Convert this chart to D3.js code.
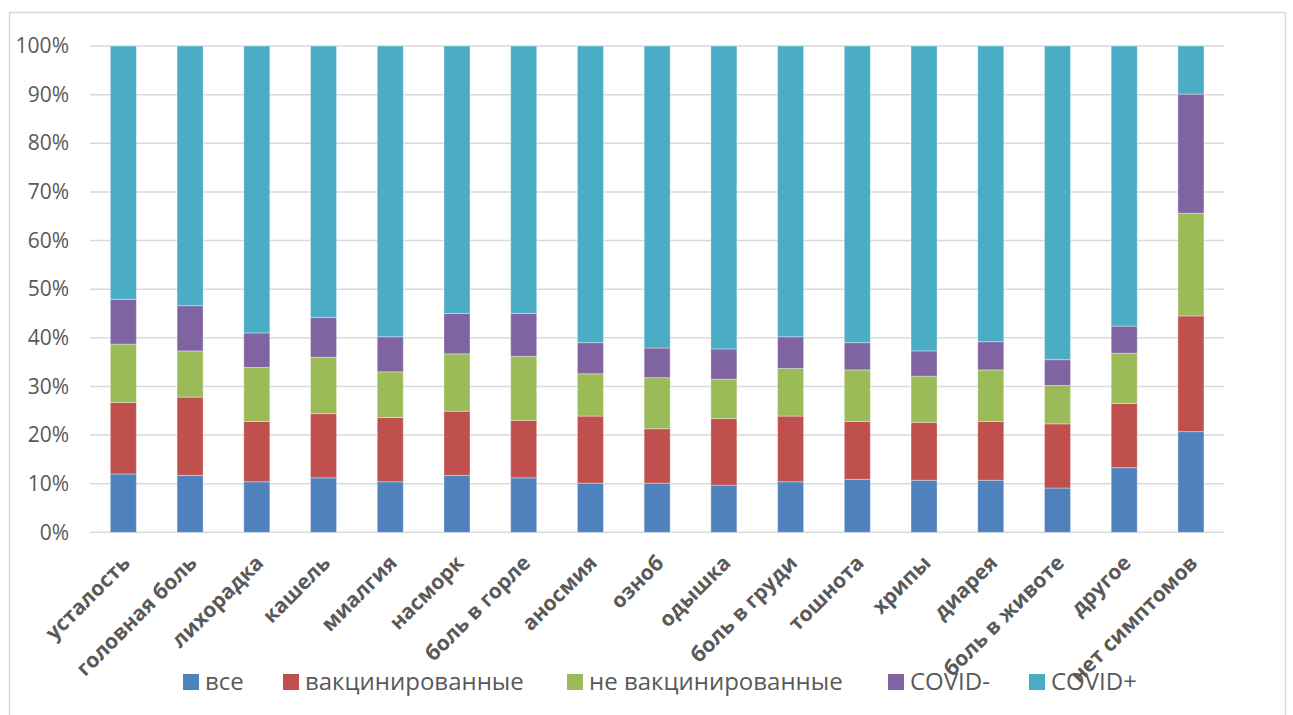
<!DOCTYPE html>
<html lang="ru">
<head>
<meta charset="utf-8">
<script src="https://cdn.jsdelivr.net/npm/d3@7"></script>
<style>
  html, body { margin: 0; padding: 0; background: #fff; }
  svg { display: block; }
</style>
</head>
<body>
<svg id="chart" width="1293" height="715"></svg>
<script>
// Symptom categories
const categories = [
  "усталость", "головная боль", "лихорадка", "кашель", "миалгия",
  "насморк", "боль в горле", "аносмия", "озноб", "одышка",
  "боль в груди", "тошнота", "хрипы", "диарея", "боль в животе",
  "другое", "нет симптомов"
];

// Series names (stack order, bottom to top)
const seriesNames = ["все", "вакцинированные", "не вакцинированные", "COVID-", "COVID+"];

// Share of each group per symptom, %
const vseValues      = [12.0, 11.7, 10.4, 11.2, 10.4, 11.7, 11.2, 10.1, 10.1,  9.7, 10.4, 10.9, 10.7, 10.7,  9.1, 13.3, 20.7];
const vaccValues     = [14.7, 16.1, 12.4, 13.2, 13.2, 13.2, 11.8, 13.8, 11.2, 13.7, 13.5, 11.9, 11.9, 12.1, 13.2, 13.2, 23.8];
const unvaccValues   = [12.0,  9.5, 11.1, 11.6,  9.4, 11.8, 13.2,  8.7, 10.5,  8.1,  9.8, 10.6,  9.5, 10.6,  7.9, 10.3, 21.1];
const covidNegValues = [ 9.2,  9.3,  7.1,  8.2,  7.2,  8.3,  8.8,  6.4,  6.1,  6.2,  6.5,  5.6,  5.2,  5.8,  5.3,  5.6, 24.5];
const covidPosValues = [52.1, 53.4, 59.0, 55.8, 59.8, 55.0, 55.0, 61.0, 62.1, 62.3, 59.8, 61.0, 62.7, 60.8, 64.5, 57.6,  9.9];

// Axis tick values
const yTicks = [0, 0.1, 0.2, 0.3, 0.4, 0.5, 0.6, 0.7, 0.8, 0.9, 1.0];

const colors = ["#4f81bd", "#c0504d", "#9bbb59", "#8064a2", "#4bacc6"];

// Build table for d3.stack
const seriesArrays = [vseValues, vaccValues, unvaccValues, covidNegValues, covidPosValues];
const table = categories.map((c, i) => {
  const row = { category: c };
  seriesNames.forEach((s, k) => { row[s] = seriesArrays[k][i]; });
  return row;
});

const stacked = d3.stack()
  .keys(seriesNames)
  .offset(d3.stackOffsetExpand)(table);

const svg = d3.select("#chart");
const FONT = "'Open Sans', 'DejaVu Sans', sans-serif";
const TEXT = "#595959";

// Outer chart frame
svg.append("rect")
  .attr("x", 9.5).attr("y", 12.5)
  .attr("width", 1276).attr("height", 720)
  .attr("fill", "none")
  .attr("stroke", "#d9d9d9")
  .attr("stroke-width", 1.5);

const plotLeft = 90, plotRight = 1224.3, plotTop = 46, plotBottom = 532.3;

const x = d3.scaleBand()
  .domain(categories)
  .range([plotLeft, plotRight])
  .paddingInner(0.61)
  .paddingOuter(0.305);

const y = d3.scaleLinear()
  .domain([0, 1])
  .range([plotBottom, plotTop]);

// Gridlines
svg.append("g")
  .selectAll("line")
  .data(yTicks)
  .join("line")
  .attr("x1", plotLeft).attr("x2", plotRight)
  .attr("y1", d => y(d)).attr("y2", d => y(d))
  .attr("stroke", "#d9d9d9")
  .attr("stroke-width", 1.5);

// Y axis labels
const yAxis = d3.axisLeft(y)
  .tickValues(yTicks)
  .tickFormat(d3.format(".0%"))
  .tickSize(0)
  .tickPadding(0);

const yAxisG = svg.append("g")
  .attr("transform", `translate(${plotLeft - 21},0)`)
  .call(yAxis);
yAxisG.select(".domain").remove();
yAxisG.selectAll("text")
  .attr("font-family", FONT)
  .attr("font-size", 21)
  .attr("fill", TEXT);

// Stacked bars
svg.append("g")
  .selectAll("g")
  .data(stacked)
  .join("g")
  .attr("fill", (d, i) => colors[i])
  .selectAll("rect")
  .data(d => d)
  .join("rect")
  .attr("x", d => x(d.data.category))
  .attr("width", x.bandwidth())
  .attr("y", d => y(d[1]))
  .attr("height", d => y(d[0]) - y(d[1]))
  .attr("stroke", "rgba(255,255,255,0.35)")
  .attr("stroke-width", 1);

// Category labels, rotated 45° and anchored at their end under each bar
svg.append("g")
  .selectAll("text")
  .data(categories)
  .join("text")
  .attr("transform", d => {
    const cx = x(d) + x.bandwidth() / 2 + 8;
    return `translate(${cx},${plotBottom + 32}) rotate(-45)`;
  })
  .attr("text-anchor", "end")
  .attr("font-family", FONT)
  .attr("font-size", 21)
  .attr("font-weight", "bold")
  .attr("fill", TEXT)
  .text(d => d);

// Legend
const legendItems = [
  { name: seriesNames[0], x: 183 },
  { name: seriesNames[1], x: 283 },
  { name: seriesNames[2], x: 567 },
  { name: seriesNames[3], x: 888 },
  { name: seriesNames[4], x: 1029 }
];
const legend = svg.append("g");
const li = legend.selectAll("g")
  .data(legendItems)
  .join("g")
  .attr("transform", d => `translate(${d.x},674)`);
li.append("rect")
  .attr("width", 16).attr("height", 16)
  .attr("fill", (d, i) => colors[i]);
li.append("text")
  .attr("x", 22).attr("y", 8)
  .attr("dy", "0.35em")
  .attr("font-family", FONT)
  .attr("font-size", 24)
  .attr("fill", TEXT)
  .text(d => d.name);
</script>
</body>
</html>
